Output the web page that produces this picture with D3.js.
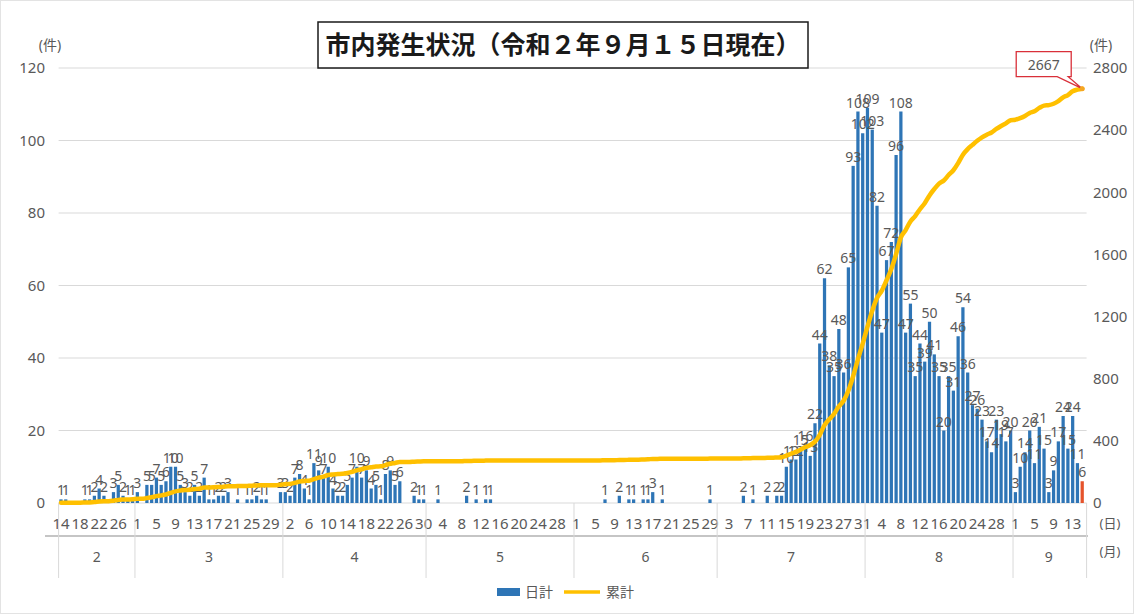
<!DOCTYPE html>
<html>
<head>
<meta charset="utf-8">
<script src="https://cdn.jsdelivr.net/npm/d3@7"></script>
<style>
body{margin:0;background:#fff;}
svg text{font-family:"Noto Sans","Noto Sans CJK JP",sans-serif;}
</style>
</head>
<body>
<svg id="chart" width="1134" height="614"></svg>
<script>
// daily new cases, one value per day (February starts on the 14th)
let startDate = new Date(2020, 1, 14);
let febCases = [1,1,0,0,0,1,1,2,4,2,0,3,5,2,1,1];
let marCases = [3,0,5,5,7,5,6,10,10,5,3,2,5,2,7,1,1,2,2,3,0,1,0,1,1,2,1,1,0,0,3];
let aprCases = [3,2,7,8,4,1,11,9,7,10,4,2,2,5,7,10,7,9,4,5,1,8,9,5,6,0,0,2,1,1];
let mayCases = [0,0,1,0,0,0,0,0,2,0,1,0,1,1,0,0,0,0,0,0,0,0,0,0,0,0,0,0,0,0,0];
let junCases = [0,0,0,0,0,0,1,0,0,2,0,1,1,0,1,1,3,0,1,0,0,0,0,0,0,0,0,0,1,0];
let julCases = [0,0,0,0,0,2,0,1,0,0,2,0,2,2,10,12,12,15,16,13,22,44,62,38,35,48,36,65,93,108,102];
let augCases = [109,103,82,47,67,72,96,108,47,55,35,44,39,50,41,35,20,35,31,46,54,36,27,26,23,17,14,23,19,17,20];
let sepCases = [3,10,14,20,11,21,15,3,9,17,24,15,24,11,6];

let monthLabels = ["2","3","4","5","6","7","8","9"];
let leftTicks = [0,20,40,60,80,100,120];
let rightTicks = [0,400,800,1200,1600,2000,2400,2800];
let titleText = "市内発生状況（令和２年９月１５日現在）";
let legendNames = ["日計","累計"];

let months = [febCases, marCases, aprCases, mayCases, junCases, julCases, augCases, sepCases];
let daily = months.flat();
let cumulative = Array.from(d3.cumsum(daily));
let dates = daily.map((v,i) => d3.timeDay.offset(startDate, i));

let svg = d3.select("#chart");
let plotLeft = 58.6, plotRight = 1084.6, plotTop = 68, plotBottom = 503;
let textColour = "#595959";

// outer frame
svg.append("rect").attr("x",0.5).attr("y",0.5).attr("width",1133).attr("height",613)
   .attr("fill","#fff").attr("stroke","#e3e3e3");

let x = d3.scaleBand().domain(d3.range(daily.length)).range([plotLeft,plotRight])
          .paddingInner(0.32).paddingOuter(0.16);
let yLeft = d3.scaleLinear().domain([0,120]).range([plotBottom,plotTop]);
let yRight = d3.scaleLinear().domain([0,2800]).range([plotBottom,plotTop]);
let cx = i => x(i) + x.bandwidth()/2;

// gridlines
svg.append("g").selectAll("line").data(leftTicks).enter().append("line")
   .attr("x1",plotLeft).attr("x2",plotRight+2)
   .attr("y1",d => yLeft(d)).attr("y2",d => yLeft(d))
   .attr("stroke","#d9d9d9").attr("stroke-width",1);

// axes
let axL = svg.append("g").attr("transform","translate(47,0)")
   .call(d3.axisLeft(yLeft).tickValues(leftTicks).tickSize(0).tickPadding(2));
let axR = svg.append("g").attr("transform","translate(1090,0)")
   .call(d3.axisRight(yRight).tickValues(rightTicks).tickFormat(d3.format("d"))
           .tickSize(0).tickPadding(3));
[axL, axR].forEach(a => {
    a.select(".domain").remove();
    a.selectAll("text").attr("font-size",15).attr("fill",textColour)
     .style("font-family","Noto Sans, sans-serif");
});
svg.append("text").attr("x",50).attr("y",50).attr("text-anchor","middle")
   .attr("font-size",14).attr("fill",textColour).text("(件)");
svg.append("text").attr("x",1101).attr("y",50).attr("text-anchor","middle")
   .attr("font-size",14).attr("fill",textColour).text("(件)");

// bars
svg.append("g").selectAll("rect").data(daily).enter().append("rect")
   .attr("x",(d,i) => x(i)).attr("width",x.bandwidth())
   .attr("y",d => yLeft(d)).attr("height",d => plotBottom - yLeft(d))
   .attr("fill",(d,i) => i === daily.length-1 ? "#E5532B" : "#2E75B6");

// bar labels
let labelG = svg.append("g");
daily.forEach((d,i) => {
    if (d > 0) {
        labelG.append("text").attr("x",cx(i)).attr("y",yLeft(d)-4)
              .attr("text-anchor","middle").attr("font-size",14)
              .attr("fill",textColour).text(d);
    }
});

// cumulative line
let line = d3.line().x((d,i) => cx(i)).y(d => yRight(d)).curve(d3.curveMonotoneX);
svg.append("path").datum(cumulative).attr("d",line)
   .attr("fill","none").attr("stroke","#FFC000").attr("stroke-width",4.5)
   .attr("stroke-linejoin","round").attr("stroke-linecap","round");

// day labels every 4 days
svg.append("g").selectAll("text").data(d3.range(0,daily.length,4)).enter().append("text")
   .attr("x",i => cx(i)).attr("y",529).attr("text-anchor","middle")
   .attr("font-size",15).attr("fill",textColour)
   .text(i => dates[i].getDate());

// month band
let axisG = svg.append("g");
axisG.append("line").attr("x1",45).attr("x2",1088).attr("y1",536).attr("y2",536)
     .attr("stroke","#8c8c8c").attr("stroke-width",1.2);
let offsets = [0];
months.forEach(m => offsets.push(offsets[offsets.length-1] + m.length));
offsets.forEach(o => {
    let xx = o === daily.length ? plotRight + 2 : x(o) - x.step()*x.paddingInner()/2;
    axisG.append("line").attr("x1",xx).attr("x2",xx).attr("y1",plotBottom).attr("y2",578)
         .attr("stroke","#d9d9d9");
});
monthLabels.forEach((m,k) => {
    let x0 = x(offsets[k]), x1 = x(offsets[k+1]-1) + x.bandwidth();
    axisG.append("text").attr("x",(x0+x1)/2).attr("y",562).attr("text-anchor","middle")
         .attr("font-size",14).attr("fill",textColour).text(m);
});
svg.append("text").attr("x",1110).attr("y",528).attr("text-anchor","middle")
   .attr("font-size",13).attr("fill",textColour).text("(日)");
svg.append("text").attr("x",1110).attr("y",556).attr("text-anchor","middle")
   .attr("font-size",13).attr("fill",textColour).text("(月)");

// callout on the final cumulative value
let last = daily.length - 1;
let px = cx(last), py = yRight(cumulative[last]);
let bx0 = px - 66, bx1 = px - 11, by0 = py - 37, by1 = py - 12;
svg.append("path")
   .attr("d",`M${bx0},${by0}H${bx1}V${by1}H${bx1-3}L${px},${py}L${bx1-14},${by1}H${bx0}Z`)
   .attr("fill","#fff").attr("stroke","#D9303A").attr("stroke-width",1.3);
svg.append("text").attr("x",(bx0+bx1)/2).attr("y",by1-7).attr("text-anchor","middle")
   .attr("font-size",14).attr("fill",textColour).text(cumulative[last]);
svg.append("circle").attr("cx",px).attr("cy",py).attr("r",2.5).attr("fill","#F5A623");

// title
svg.append("rect").attr("x",318).attr("y",22).attr("width",490).attr("height",46)
   .attr("fill","#fff").attr("stroke","#1a1a1a").attr("stroke-width",1.5);
svg.append("text").attr("x",563).attr("y",54).attr("text-anchor","middle")
   .attr("font-size",25).attr("font-weight","bold").attr("fill","#1a1a1a")
   .style("font-family","Noto Sans CJK JP, sans-serif").text(titleText);

// legend
let lg = svg.append("g");
lg.append("rect").attr("x",497).attr("y",588).attr("width",23).attr("height",8).attr("fill","#2E75B6");
lg.append("text").attr("x",525).attr("y",597).attr("font-size",14).attr("fill",textColour)
  .style("font-family","Noto Sans CJK JP, sans-serif").text(legendNames[0]);
lg.append("line").attr("x1",564).attr("x2",600).attr("y1",592).attr("y2",592)
  .attr("stroke","#FFC000").attr("stroke-width",3.5);
lg.append("text").attr("x",606).attr("y",597).attr("font-size",14).attr("fill",textColour)
  .style("font-family","Noto Sans CJK JP, sans-serif").text(legendNames[1]);
</script>
</body>
</html>
